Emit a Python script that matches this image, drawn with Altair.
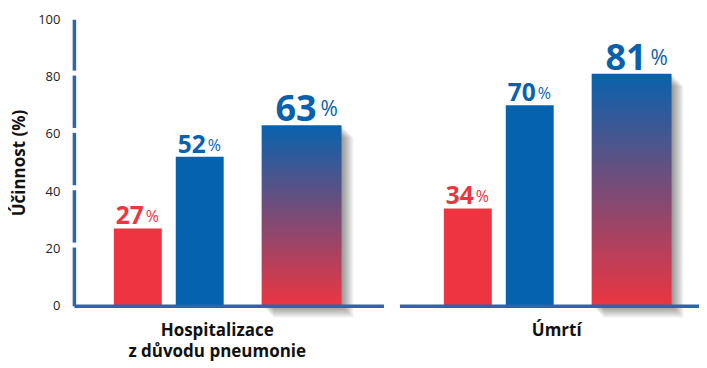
import altair as alt
import pandas as pd

# ---- data ----
groups = ["Hospitalizace", "Úmrtí"]
group_titles = [["Hospitalizace", "z důvodu pneumonie"], ["Úmrtí"]]
series = ["Série 1", "Série 2", "Série 3"]
hosp_values = [27, 52, 63]
death_values = [34, 70, 81]
y_ticks = [0, 20, 40, 60, 80, 100]

# ---- style / layout ----
RED = "#ee3441"
BLUE = "#0562ae"
AXIS_BLUE = "#2c64ae"
FONT = "Open Sans"
# bar extents along a hidden x scale (1 unit = 10 px)
slot_start = {"Série 1": 4.0, "Série 2": 10.2, "Série 3": 18.8}
slot_end = {"Série 1": 8.8, "Série 2": 15.0, "Série 3": 26.8}

gradient = alt.Gradient(
    gradient="linear",
    stops=[alt.GradientStop(color="#ec3541", offset=0),
           alt.GradientStop(color="#0862ad", offset=1)],
    x1=0, x2=0, y1=1, y2=0,
)

color_scale = alt.Scale(domain=series, range=[RED, BLUE, "#0a60ab"])


def panel(values, x_domain, width, title, title_x, show_y):
    df = pd.DataFrame({"series": series, "value": values})
    df["x0"] = [slot_start[s] for s in series]
    df["x1"] = [slot_end[s] for s in series]
    df["xc"] = (df["x0"] + df["x1"]) / 2
    df["label"] = df["value"].astype(str)
    df["pct"] = "%"

    base = alt.Chart(df)
    x_axis = alt.Axis(
        domain=True, domainColor=AXIS_BLUE, domainWidth=3.5, ticks=False,
        labels=False, grid=False, title=title, titleFont=FONT,
        titleFontSize=17, titleFontWeight="bold", titleColor="#111111",
        titlePadding=17, titleLineHeight=21, titleX=title_x, zindex=1,
    )
    if show_y:
        y_axis = alt.Axis(
            values=y_ticks, domain=True, domainColor=AXIS_BLUE, domainWidth=3.5,
            ticks=False, grid=False, labelPadding=14, labelFont=FONT,
            labelFontSize=13, labelColor="#222222", title="Účinnost (%)",
            titleFont=FONT, titleFontSize=17, titleFontWeight="bold",
            titleColor="#111111", titlePadding=9, titleLimit=200, zindex=0,
        )
    else:
        y_axis = None
    xs = alt.Scale(domain=x_domain, nice=False, zero=False)
    ys = alt.Scale(domain=[0, 100], nice=False)

    narrow = alt.FieldOneOfPredicate(field="series", oneOf=series[:2])
    wide = alt.FieldOneOfPredicate(field="series", oneOf=series[2:])

    bars = base.transform_filter(narrow).mark_rect().encode(
        x=alt.X("x0:Q", scale=xs, axis=x_axis),
        x2="x1:Q",
        y=alt.Y("value:Q", scale=ys, axis=y_axis),
        y2=alt.datum(0),
        color=alt.Color("series:N", scale=color_scale, legend=None),
    )
    shadows = [
        base.transform_filter(wide).mark_rect(
            color="#000000", opacity=0.04,
            xOffset=k, x2Offset=k, yOffset=k, y2Offset=k,
        ).encode(x="x0:Q", x2="x1:Q", y="value:Q", y2=alt.datum(0))
        for k in range(1, 13)
    ]
    grad_bar = base.transform_filter(wide).mark_rect(color=gradient).encode(
        x="x0:Q", x2="x1:Q", y="value:Q", y2=alt.datum(0)
    )

    def num_layer(pred, size, dx, dy):
        return base.transform_filter(pred).mark_text(
            align="right", baseline="alphabetic", font=FONT, fontWeight="bold",
            fontSize=size, dx=dx, dy=dy,
        ).encode(x="xc:Q", y="value:Q", text="label:N",
                 color=alt.Color("series:N", scale=color_scale, legend=None))

    def pct_layer(pred, size, dx, dy):
        return base.transform_filter(pred).mark_text(
            align="left", baseline="alphabetic", font=FONT, fontWeight="normal",
            fontSize=size, dx=dx, dy=dy,
        ).encode(x="xc:Q", y="value:Q", text="pct:N",
                 color=alt.Color("series:N", scale=color_scale, legend=None))

    layers = [bars] + shadows + [grad_bar,
              num_layer(narrow, 24.5, 6, -4), pct_layer(narrow, 16, 8, -6),
              num_layer(wide, 36, 15, -4), pct_layer(wide, 21, 19, -9)]

    if show_y:
        gaps = alt.Chart(pd.DataFrame({"tick": y_ticks[1:-1]})).transform_calculate(
            g="datum.tick + 1.2"
        ).mark_rule(color="white", strokeWidth=5).encode(
            y="g:Q", x=alt.value(-4), x2=alt.value(4)
        )
        layers.append(gaps)

    return alt.layer(*layers).properties(width=width, height=287)


left = panel(hosp_values, [0, 31], 310, group_titles[0], 143, True)
right = panel(death_values, [-0.45, 29.55], 300, group_titles[1], 157, False)

chart = alt.hconcat(left, right, spacing=16).resolve_scale(
    x="independent", y="shared"
).properties(
    padding={"left": 2, "top": 5, "right": 0, "bottom": 3}
).configure_view(stroke=None).configure_axisY(
    titleFontSize=17, titleFont=FONT, titleFontWeight="bold",
    labelFontSize=13, labelFont=FONT,
).configure_axisX(
    titleFontSize=17, titleFont=FONT, titleFontWeight="bold",
)

chart.save("out.html", embed_options={"renderer": "svg", "actions": False})
